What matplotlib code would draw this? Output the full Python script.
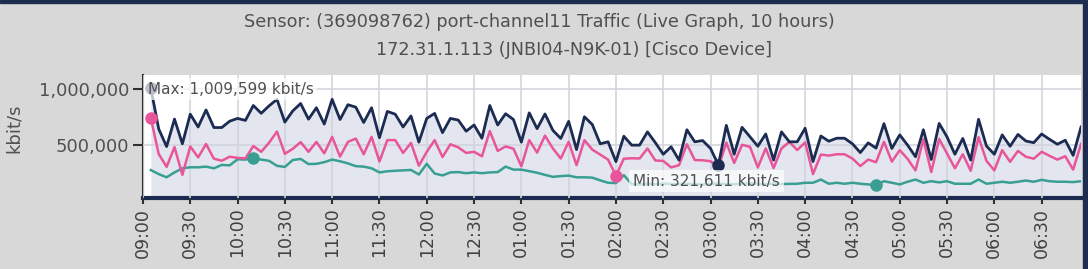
import matplotlib
matplotlib.use("Agg")
import matplotlib.pyplot as plt
import numpy as np

# ---- data (kbit/s), 5-minute samples starting 09:05 ----
minutes = list(range(5, 600, 5))  # minutes after 09:00

total = [1009.599, 645, 487, 734, 512, 778, 663, 816, 658, 658,
         715, 740, 722, 856, 786, 853, 911, 707, 807, 874,
         733, 836, 689, 911, 730, 863, 841, 703, 836, 567,
         803, 778, 663, 762, 527, 740, 785, 612, 740, 725,
         625, 681, 562, 856, 681, 782, 730, 527, 790, 648,
         780, 633, 560, 714, 460, 755, 685, 512, 530, 352,
         580, 500, 500, 619, 522, 418, 485, 366, 638, 530,
         541, 470, 321.611, 678, 418, 660, 575, 490, 600, 366,
         619, 530, 530, 652, 353, 582, 535, 562, 562, 512,
         433, 520, 473, 693, 470, 592, 500, 396, 638, 371,
         695, 574, 418, 560, 366, 732, 492, 418, 592, 490,
         596, 537, 522, 600, 552, 508, 544, 408, 663]

traffic_in = [741, 420, 305, 482, 233, 488, 390, 510, 378, 360,
              396, 385, 381, 492, 440, 522, 622, 422, 467, 527,
              440, 529, 426, 574, 397, 529, 559, 418, 574, 353,
              545, 545, 430, 520, 315, 440, 545, 393, 508, 480,
              430, 440, 400, 626, 448, 488, 468, 310, 545, 433,
              585, 470, 380, 530, 320, 545, 460, 415, 370, 226,
              378, 382, 380, 470, 362, 358, 300, 320, 508, 366,
              364, 355, 300, 522, 340, 503, 485, 300, 471, 294,
              470, 529, 456, 524, 240, 415, 406, 418, 418, 380,
              312, 370, 347, 530, 352, 455, 376, 273, 552, 258,
              555, 425, 292, 418, 270, 571, 359, 273, 455, 350,
              448, 396, 378, 440, 404, 370, 400, 280, 510]

traffic_out = [276, 240, 211, 255, 292, 301, 301, 307, 292, 322,
               318, 373, 370, 382, 370, 359, 314, 304, 366, 376,
               330, 332, 347, 370, 355, 336, 311, 307, 292, 255,
               265, 270, 273, 277, 236, 332, 245, 228, 255, 258,
               248, 255, 248, 255, 258, 307, 280, 280, 266, 252,
               233, 215, 222, 226, 211, 211, 208, 184, 162, 159,
               230, 150, 146, 152, 148, 155, 150, 148, 153, 150,
               146, 152, 155, 150, 148, 152, 158, 150, 148, 155,
               150, 152, 153, 162, 162, 191, 153, 162, 153, 162,
               153, 147, 141, 176, 162, 147, 171, 191, 162, 176,
               165, 176, 153, 153, 153, 191, 153, 162, 171, 162,
               171, 182, 171, 188, 176, 171, 171, 168, 176]

tick_minutes = list(range(0, 600, 30))
tick_labels = ["09:00", "09:30", "10:00", "10:30", "11:00", "11:30",
               "12:00", "12:30", "01:00", "01:30", "02:00", "02:30",
               "03:00", "03:30", "04:00", "04:30", "05:00", "05:30",
               "06:00", "06:30"]
ytick_values = [500000, 1000000]
ytick_labels = ["500,000", "1,000,000"]

title_line1 = "Sensor: (369098762) port-channel11 Traffic (Live Graph, 10 hours)"
title_line2 = "172.31.1.113 (JNBI04-N9K-01) [Cisco Device]"

# ---- styling ----
plt.rcParams['font.family'] = ['DejaVu Sans']
NAVY = '#1c2b52'
PINK = '#e8559a'
TEAL = '#3a9f93'
TXT = '#505050'
BG = '#d8d8d8'

x = np.array(minutes, dtype=float)
tot = np.array(total) * 1000
tin = np.array(traffic_in) * 1000
tout = np.array(traffic_out) * 1000

fig = plt.figure(figsize=(10.88, 2.69), dpi=100, facecolor=BG)
# decorative frame bands
fig.patches.append(plt.Rectangle((0, 0.988), 1, 0.012, transform=fig.transFigure,
                                 color='#1e2d4f', zorder=0))
fig.patches.append(plt.Rectangle((0.9955, 0), 0.0045, 1, transform=fig.transFigure,
                                 color='#1e2d4f', zorder=0))

ax = fig.add_axes([0.1314, 0.2639, 0.8622, 0.4573])
ax.set_facecolor('white')
ax.set_xlim(0, 595)
ax.set_ylim(25000, 1130000)

ax.fill_between(x, tot, 0, color='#e3e6ee', zorder=1, lw=0)
ax.set_xticks(tick_minutes)
ax.set_xticklabels(tick_labels, rotation=90, fontsize=12.5, color='#404040')
ax.set_yticks(ytick_values)
ax.set_yticklabels(ytick_labels, fontsize=13, color=TXT)
ax.grid(True, color='#d2d5dc', lw=1.2, zorder=2)
ax.set_axisbelow(False)

ax.plot(x, tout, color=TEAL, lw=1.8, zorder=3)
ax.plot(x, tin, color=PINK, lw=1.8, zorder=4)
ax.plot(x, tot, color=NAVY, lw=2.0, zorder=5)

# extreme markers
for arr, col in [(tot, NAVY), (tin, PINK), (tout, TEAL)]:
    imax = int(np.argmax(arr))
    imin = int(np.argmin(arr))
    ax.plot(x[imax], arr[imax], 'o', color=col, ms=8, zorder=6)
    ax.plot(x[imin], arr[imin], 'o', color=col, ms=8, zorder=6)

imax = int(np.argmax(tot))
imin = int(np.argmin(tot))
ax.text(3, 1003000, "Max: {:,.0f} kbit/s".format(tot[imax]),
        fontsize=11, color=TXT, va='center', ha='left', zorder=8,
        bbox=dict(boxstyle='square,pad=0.25', fc='white', ec='none', alpha=0.7))
ax.text(311, 177000, "Min: {:,.0f} kbit/s".format(tot[imin]),
        fontsize=11, color=TXT, va='center', ha='left', zorder=8,
        bbox=dict(boxstyle='square,pad=0.25', fc='white', ec='none', alpha=0.7))

for s in ['top', 'right']:
    ax.spines[s].set_visible(False)
ax.spines['left'].set_color('#303030')
ax.spines['left'].set_linewidth(1.5)
ax.spines['bottom'].set_color(NAVY)
ax.spines['bottom'].set_linewidth(3)
ax.tick_params(axis='x', length=4, width=1.5, color='#303030', pad=3)
ax.tick_params(axis='y', length=7, width=1.5, color='#303030', pad=3)

ax.set_ylabel("kbit/s", fontsize=13, color=TXT)
ax.yaxis.set_label_coords(-0.128, 0.57)

fig.text(0.4954, 0.918, title_line1, ha='center', va='center', fontsize=12.7, color=TXT)
fig.text(0.528, 0.814, title_line2, ha='center', va='center', fontsize=12.7, color=TXT)

fig.savefig("out.png", dpi=100, facecolor=BG)
